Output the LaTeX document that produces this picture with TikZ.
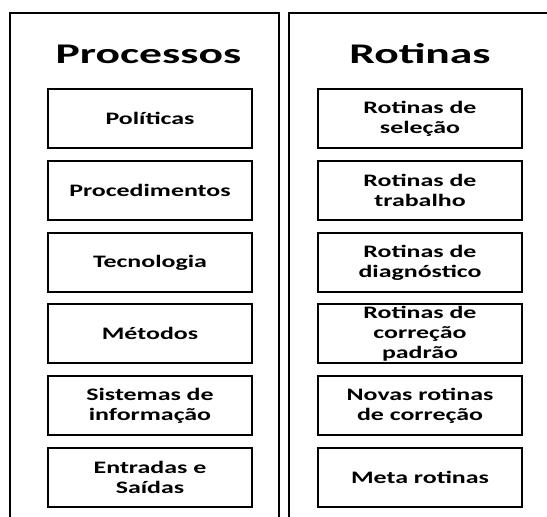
\documentclass[tikz,border=0pt]{standalone}
\usepackage{fontspec}
\newfontfamily\bodyf{Carlito}[FakeStretch=1.48]
\newfontfamily\titlef{Carlito}[FakeStretch=1.6]
\begin{document}
\begin{tikzpicture}[x=1pt,y=-1pt,
  panel/.style={line width=2pt, black},
  item/.style={draw, line width=2.5pt, minimum width=204pt, minimum height=59pt,
    inner sep=0pt, align=center, font=\bodyf\bfseries\fontsize{17.5}{20}\selectfont},
  heading/.style={anchor=base, inner sep=0pt, font=\titlef\bfseries\fontsize{28.5}{32}\selectfont}]
\useasboundingbox (0,0) rectangle (547,517);
\fill[white] (0,0) rectangle (547,517);
% panels (open at the bottom)
\draw[panel] (10,518) -- (10,13) -- (279,13) -- (279,518);
\draw[panel] (289,518) -- (289,13) -- (548,13);
% headings
\node[heading] (tp) at (148.5,63) {Processos};
\node[heading] (tr) at (420,63) {Rotinas};
% left column
\node[item] (p1) at (150,118.5) {Políticas};
\node[item] (p2) at (150,190.5) {Procedimentos};
\node[item] (p3) at (150,262.5) {Tecnologia};
\node[item] (p4) at (150,333.5) {Métodos};
\node[item] (p5) at (150,405.5) {Sistemas de\\informação};
\node[item] (p6) at (150,477.5) {Entradas e\\Saídas};
% right column
\node[item] (r1) at (420,118.5) {Rotinas de\\seleção};
\node[item] (r2) at (420,190.5) {Rotinas de\\trabalho};
\node[item] (r3) at (420,262.5) {Rotinas de\\diagnóstico};
\node[item] (r4) at (420,333.5) {Rotinas de\\correção\\padrão};
\node[item] (r5) at (420,405.5) {Novas rotinas\\de correção};
\node[item] (r6) at (420,477.5) {Meta rotinas};
\end{tikzpicture}
\end{document}
